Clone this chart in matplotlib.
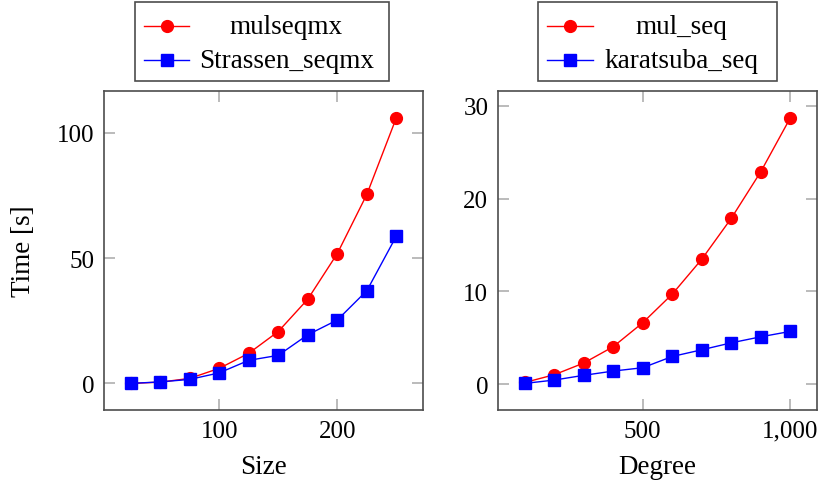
import matplotlib
matplotlib.use("Agg")
import matplotlib.pyplot as plt
from matplotlib.lines import Line2D
from matplotlib.patches import Rectangle
from matplotlib.ticker import FuncFormatter

# ---- data ----
size = [25, 50, 75, 100, 125, 150, 175, 200, 225, 250]
mulseqmx = [0.0, 0.5, 2.0, 6.0, 12.0, 20.7, 33.6, 51.8, 75.4, 106.0]
strassen_seqmx = [0.0, 0.6, 1.6, 4.2, 9.2, 11.2, 19.4, 25.3, 37.0, 58.8]

degree = [100, 200, 300, 400, 500, 600, 700, 800, 900, 1000]
mul_seq = [0.2, 1.03, 2.29, 4.05, 6.63, 9.71, 13.47, 17.88, 22.9, 28.7]
karatsuba_seq = [0.1, 0.46, 0.97, 1.43, 1.79, 3.0, 3.72, 4.47, 5.12, 5.7]

left_labels = ["mulseqmx", "Strassen_seqmx"]
right_labels = ["mul_seq", "karatsuba_seq"]

W, H = 821, 489
FS = 18      # tick labels
FW = 19.5    # words
plt.rcParams['font.family'] = ['Liberation Serif', 'DejaVu Serif']

fig = plt.figure(figsize=(W / 100, H / 100), dpi=100)


def rect(x0, y0, x1, y1):
    return [x0 / W, 1 - y1 / H, (x1 - x0) / W, (y1 - y0) / H]


RED = (1, 0, 0)
BLUE = (0, 0, 1)
TICK = (0.66, 0.66, 0.66)
SPINE = (0.3, 0.3, 0.3)


def style_axes(ax):
    for s in ax.spines.values():
        s.set_linewidth(1.2)
        s.set_color(SPINE)
    ax.tick_params(direction='in', length=8, width=1.1, color=TICK,
                   top=True, right=True, labelsize=FS, pad=7)


ax1 = fig.add_axes(rect(104, 92, 423, 411))
ax1.plot(size, mulseqmx, color=RED, lw=1.0, marker='o', ms=8.5,
         markeredgecolor=RED, markerfacecolor=RED)
ax1.plot(size, strassen_seqmx, color=BLUE, lw=1.0, marker='s', ms=8,
         markeredgecolor=BLUE, markerfacecolor=BLUE)
ax1.set_xlim(2.5, 272.5)
ax1.set_ylim(-10.6, 116.6)
ax1.set_xticks([100, 200])
ax1.set_yticks([0, 50, 100])
style_axes(ax1)
ax1.set_xlabel("Size", fontsize=FW, labelpad=9)
ax1.set_ylabel("Time [s]", fontsize=FW, labelpad=15)

ax2 = fig.add_axes(rect(498, 92, 817, 411))
ax2.plot(degree, mul_seq, color=RED, lw=1.0, marker='o', ms=8.5,
         markeredgecolor=RED, markerfacecolor=RED)
ax2.plot(degree, karatsuba_seq, color=BLUE, lw=1.0, marker='s', ms=8,
         markeredgecolor=BLUE, markerfacecolor=BLUE)
ax2.set_xlim(10, 1090)
ax2.set_ylim(-2.76, 31.57)
ax2.set_xticks([500, 1000])
ax2.set_yticks([0, 10, 20, 30])
ax2.xaxis.set_major_formatter(FuncFormatter(lambda v, p: f"{int(v):,}"))
style_axes(ax2)
ax2.set_xlabel("Degree", fontsize=FW, labelpad=9)


def px(x, y):
    return x / W, 1 - y / H


def legend_box(bx0, by0, bx1, by1, lx0, lx1, tcx, rows, labels):
    x, y = px(bx0, by1)
    w, h = (bx1 - bx0) / W, (by1 - by0) / H
    fig.add_artist(Rectangle((x, y), w, h, transform=fig.transFigure,
                             fill=False, edgecolor=SPINE, lw=1.2))
    styles = [(RED, 'o', 8.5), (BLUE, 's', 8)]
    for (c, m, ms), ry, lab in zip(styles, rows, labels):
        xa, ya = px(lx0, ry)
        xb, _ = px(lx1, ry)
        fig.add_artist(Line2D([xa, xb], [ya, ya], transform=fig.transFigure,
                              color=c, lw=1.0))
        xm, _ = px((lx0 + lx1) / 2, ry)
        fig.add_artist(Line2D([xm], [ya], transform=fig.transFigure,
                              color=c, marker=m, ms=ms, markeredgecolor=c,
                              markerfacecolor=c))
        xt, _ = px(tcx, ry)
        fig.text(xt, ya, lab, ha='center', va='center', fontsize=FW)


legend_box(135, 3, 389, 82, 144, 189, 286.5, [27, 61], left_labels)
legend_box(538, 3, 777, 82, 547, 593, 681, [27, 61], right_labels)

fig.savefig("out.png", dpi=100)
